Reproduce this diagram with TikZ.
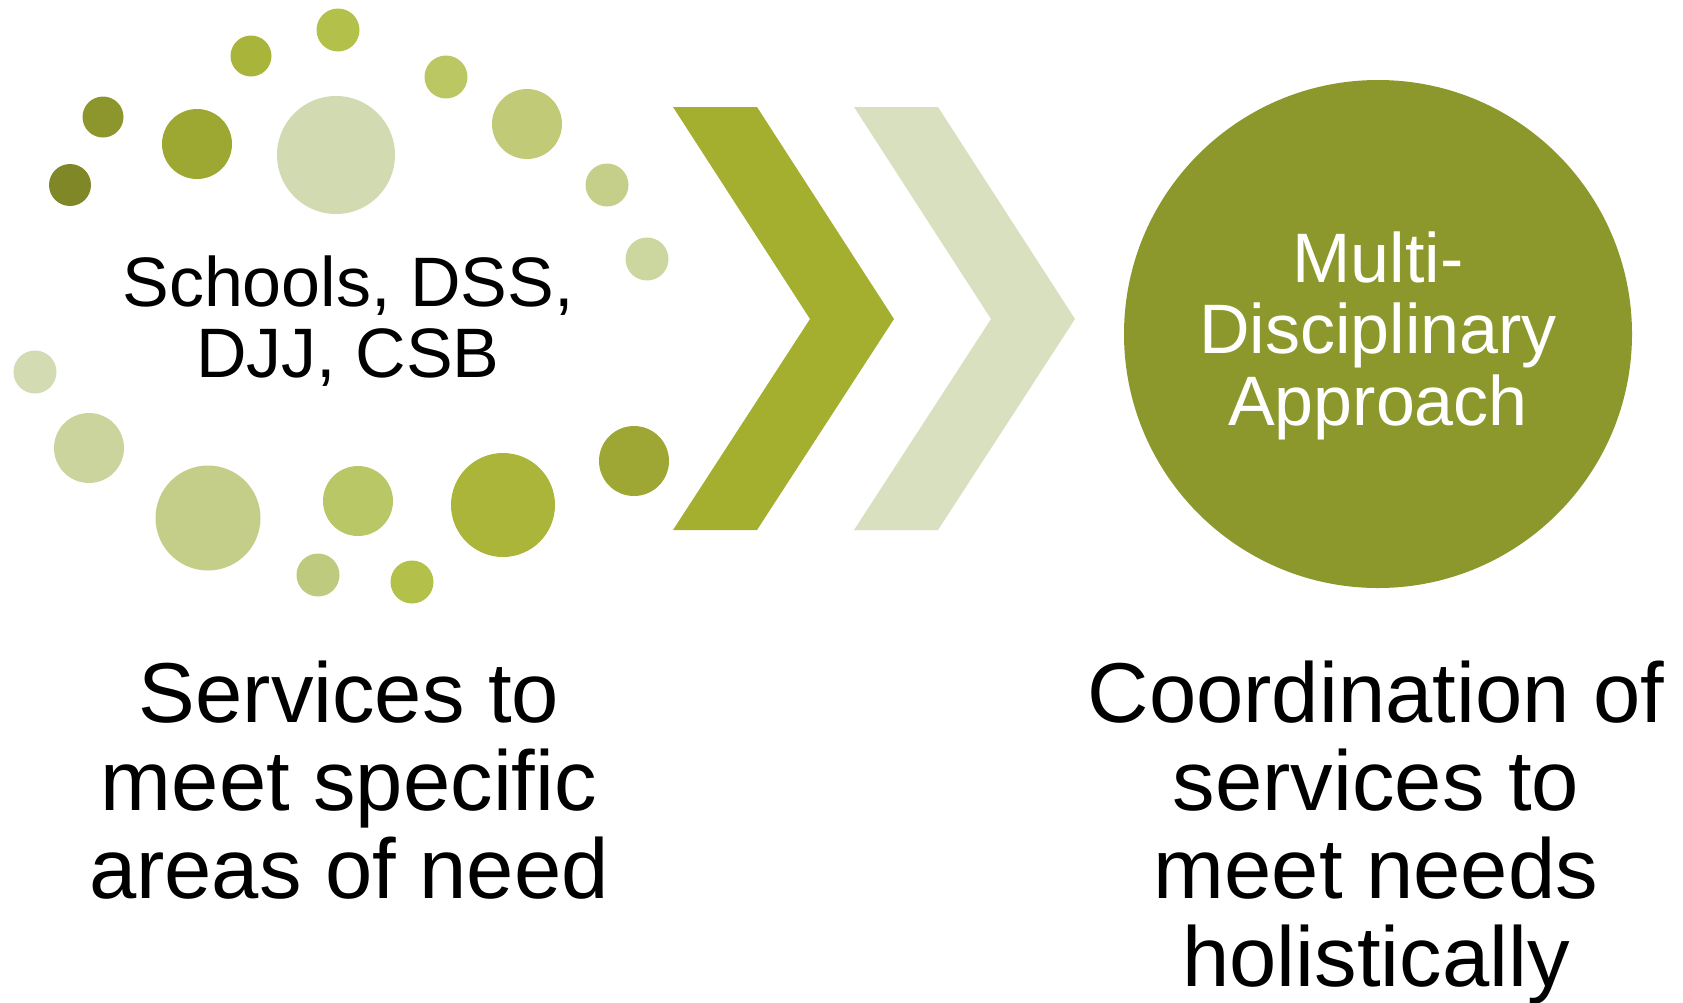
\documentclass[tikz,border=0pt]{standalone}
\usepackage{fontspec}
\setmainfont{Liberation Sans}
\begin{document}
\begin{tikzpicture}[x=1pt,y=-1pt,
  dot/.style={circle,inner sep=0pt,draw=none,minimum size=#1},
  lbl/.style={align=center,anchor=base,inner sep=0pt},
  chev/.style={draw=none}]
\useasboundingbox (0,0) rectangle (1683,1002);
\definecolor{c1}{HTML}{B3C14B}
\definecolor{c2}{HTML}{A9B53A}
\definecolor{c3}{HTML}{8C962C}
\definecolor{c4}{HTML}{7F8726}
\definecolor{c5}{HTML}{9DA833}
\definecolor{c6}{HTML}{D1DAB0}
\definecolor{c7}{HTML}{BBC763}
\definecolor{c8}{HTML}{C0CA77}
\definecolor{c9}{HTML}{C5CF89}
\definecolor{c10}{HTML}{CCD69F}
\definecolor{c11}{HTML}{D2DBB2}
\definecolor{c12}{HTML}{CAD49C}
\definecolor{c13}{HTML}{C4CE88}
\definecolor{c14}{HTML}{BAC766}
\definecolor{c15}{HTML}{ABB53A}
\definecolor{c16}{HTML}{9EA733}
\definecolor{c17}{HTML}{BECA7E}
\definecolor{c18}{HTML}{B3C14B}
\definecolor{chevA}{HTML}{A4AF30}
\definecolor{chevB}{HTML}{D9E0C0}
\definecolor{big}{HTML}{8C982B}
% dots
\node[dot=43pt,fill=c1] (d1) at (338,30) {};
\node[dot=41pt,fill=c2] (d2) at (251,56) {};
\node[dot=41pt,fill=c3] (d3) at (103,117) {};
\node[dot=42pt,fill=c4] (d4) at (70,185) {};
\node[dot=70pt,fill=c5] (d5) at (197,144) {};
\node[dot=118pt,fill=c6] (d6) at (336,155) {};
\node[dot=43pt,fill=c7] (d7) at (446,77) {};
\node[dot=70pt,fill=c8] (d8) at (527,124) {};
\node[dot=43pt,fill=c9] (d9) at (607,185) {};
\node[dot=43pt,fill=c10] (d10) at (647,259) {};
\node[dot=43pt,fill=c11] (d11) at (35,372) {};
\node[dot=70pt,fill=c12] (d12) at (89,448) {};
\node[dot=105pt,fill=c13] (d13) at (208,518) {};
\node[dot=70pt,fill=c14] (d14) at (358,501) {};
\node[dot=104pt,fill=c15] (d15) at (503,505) {};
\node[dot=70pt,fill=c16] (d16) at (634,461) {};
\node[dot=43pt,fill=c17] (d17) at (318,575) {};
\node[dot=43pt,fill=c18] (d18) at (412,582) {};
% chevrons
\fill[chevA] (673,107) -- (757,107) -- (894,319) -- (757,530) -- (673,530) -- (810,319) -- cycle;
\fill[chevB] (854,107) -- (938,107) -- (1075,319) -- (938,530) -- (854,530) -- (991,319) -- cycle;
% big circle
\node[dot=508pt,fill=big] (bigc) at (1378,334) {};
% texts (base anchor = baseline of last line)
\node[lbl,font=\fontsize{70}{71}\selectfont] (src) at (348,377) {Schools, DSS,\\DJJ, CSB};
\node[lbl,font=\fontsize{70}{71.5}\selectfont,text=white] (mda) at (1378,425) {Multi-\\Disciplinary\\Approach};
\node[lbl,font=\fontsize{85}{88}\selectfont] (left) at (349,898) {Services to\\meet specific\\areas of need};
\node[lbl,font=\fontsize{85}{88}\selectfont] (right) at (1376,986) {Coordination of\\services to\\meet needs\\holistically};
\end{tikzpicture}
\end{document}
